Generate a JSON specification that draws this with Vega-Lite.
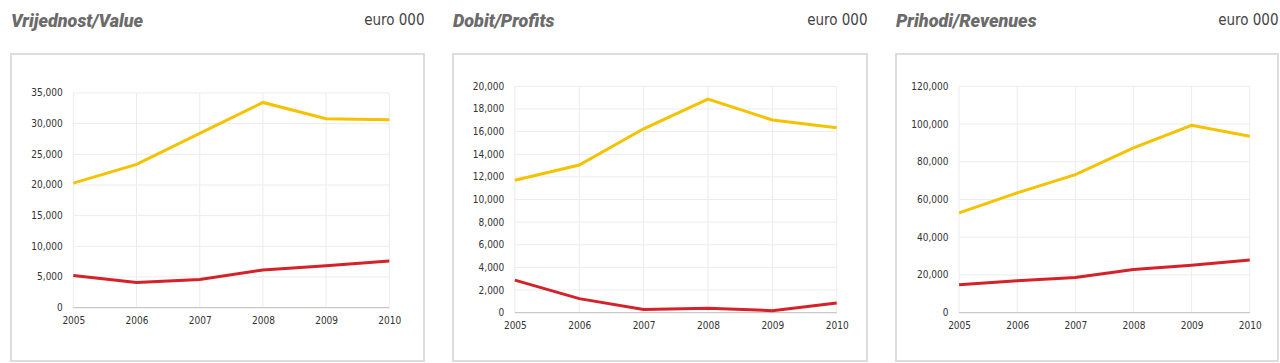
{
  "$schema": "https://vega.github.io/schema/vega-lite/v6.json",
  "padding": {"left": 10, "top": 11, "right": 0, "bottom": 0},
  "background": "white",
  "spacing": 27,
  "datasets": {
    "value": [
      {"year": 2005, "series": "A", "amount": 20300},
      {"year": 2006, "series": "A", "amount": 23350},
      {"year": 2007, "series": "A", "amount": 28400},
      {"year": 2008, "series": "A", "amount": 33450},
      {"year": 2009, "series": "A", "amount": 30800},
      {"year": 2010, "series": "A", "amount": 30650},
      {"year": 2005, "series": "B", "amount": 5250},
      {"year": 2006, "series": "B", "amount": 4100},
      {"year": 2007, "series": "B", "amount": 4600},
      {"year": 2008, "series": "B", "amount": 6150},
      {"year": 2009, "series": "B", "amount": 6850},
      {"year": 2010, "series": "B", "amount": 7600}
    ],
    "profits": [
      {"year": 2005, "series": "A", "amount": 11700},
      {"year": 2006, "series": "A", "amount": 13050},
      {"year": 2007, "series": "A", "amount": 16250},
      {"year": 2008, "series": "A", "amount": 18880},
      {"year": 2009, "series": "A", "amount": 17030},
      {"year": 2010, "series": "A", "amount": 16350},
      {"year": 2005, "series": "B", "amount": 2880},
      {"year": 2006, "series": "B", "amount": 1240},
      {"year": 2007, "series": "B", "amount": 290},
      {"year": 2008, "series": "B", "amount": 380},
      {"year": 2009, "series": "B", "amount": 180},
      {"year": 2010, "series": "B", "amount": 850}
    ],
    "revenues": [
      {"year": 2005, "series": "A", "amount": 52900},
      {"year": 2006, "series": "A", "amount": 63500},
      {"year": 2007, "series": "A", "amount": 73200},
      {"year": 2008, "series": "A", "amount": 87400},
      {"year": 2009, "series": "A", "amount": 99300},
      {"year": 2010, "series": "A", "amount": 93500},
      {"year": 2005, "series": "B", "amount": 14800},
      {"year": 2006, "series": "B", "amount": 16900},
      {"year": 2007, "series": "B", "amount": 18700},
      {"year": 2008, "series": "B", "amount": 22900},
      {"year": 2009, "series": "B", "amount": 25100},
      {"year": 2010, "series": "B", "amount": 27900}
    ],
    "gridValue": [{"v": 5000}, {"v": 10000}, {"v": 15000}, {"v": 20000}, {"v": 25000}, {"v": 30000}, {"v": 35000}],
    "gridProfits": [{"v": 2000}, {"v": 4000}, {"v": 6000}, {"v": 8000}, {"v": 10000}, {"v": 12000}, {"v": 14000}, {"v": 16000}, {"v": 18000}, {"v": 20000}],
    "gridRevenues": [{"v": 20000}, {"v": 40000}, {"v": 60000}, {"v": 80000}, {"v": 100000}, {"v": 120000}]
  },
  "hconcat": [
    {
      "width": 413,
      "height": 307,
      "view": {"stroke": "#dddddd", "strokeWidth": 2},
      "resolve": {"axis": {"x": "independent", "y": "independent"}},
      "title": {"text": "Vrijednost/Value", "anchor": "start", "frame": "group", "dy": 37, "baseline": "alphabetic", "font": "Roboto", "fontSize": 18, "fontWeight": 900, "fontStyle": "italic", "color": "#6b6b6b"},
      "layer": [
        {
          "data": {"name": "value"},
          "transform": [{"filter": "datum.series === 'A'"}],
          "mark": {"type": "rule", "color": "#ececec", "strokeWidth": 1},
          "encoding": {
            "x": {"field": "year", "type": "quantitative", "scale": {"domain": [2004.014, 2010.549], "nice": false, "zero": false},
              "axis": {"orient": "bottom", "offset": -53.4, "values": [2005, 2006, 2007, 2008, 2009, 2010], "format": "d", "domain": false, "ticks": false, "grid": false, "labelPadding": 8, "labelFlush": false, "labelOverlap": false, "title": null}},
            "y": {"datum": 0, "type": "quantitative", "scale": {"domain": [-8693, 41349], "nice": false, "zero": false}, "axis": null},
            "y2": {"datum": 35000}
          }
        },
        {
          "data": {"name": "gridValue"},
          "mark": {"type": "rule", "color": "#ececec", "strokeWidth": 1},
          "encoding": {
            "y": {"field": "v", "type": "quantitative", "scale": {"domain": [-8693, 41349], "nice": false, "zero": false}, "axis": null},
            "x": {"datum": 2005, "type": "quantitative", "scale": {"domain": [2004.014, 2010.549], "nice": false, "zero": false}, "axis": null},
            "x2": {"datum": 2010}
          }
        },
        {
          "data": {"name": "value"},
          "transform": [{"filter": "datum.series === 'A' && datum.year === 2005"}],
          "mark": {"type": "rule", "color": "#c8c8c8", "strokeWidth": 1.2},
          "encoding": {
            "y": {"datum": 0, "type": "quantitative", "scale": {"domain": [-8693, 41349], "nice": false, "zero": false}, "axis": null},
            "x": {"datum": 2005, "type": "quantitative", "scale": {"domain": [2004.014, 2010.549], "nice": false, "zero": false}, "axis": null},
            "x2": {"datum": 2010}
          }
        },
        {
          "data": {"name": "value"},
          "mark": {"type": "line", "strokeWidth": 3},
          "encoding": {
            "x": {"field": "year", "type": "quantitative", "scale": {"domain": [2004.014, 2010.549], "nice": false, "zero": false},
              "axis": {"orient": "top", "labels": false, "ticks": false, "domain": false, "grid": false, "title": "euro 000", "titleAnchor": "end", "titleAlign": "right", "titleBaseline": "alphabetic", "titlePadding": 30, "titleFont": "DejaVu Sans Condensed, Liberation Sans, sans-serif", "titleFontSize": 15, "titleFontWeight": "normal", "titleColor": "#444444"}},
            "y": {"field": "amount", "type": "quantitative", "scale": {"domain": [-8693, 41349], "nice": false, "zero": false},
              "axis": {"orient": "left", "offset": -62.3, "values": [0, 5000, 10000, 15000, 20000, 25000, 30000, 35000], "format": ",d", "domain": false, "ticks": false, "grid": false, "labelPadding": 11, "labelOverlap": false, "labelFlush": false, "title": null}},
            "color": {"field": "series", "type": "nominal", "scale": {"domain": ["A", "B"], "range": ["#F5C200", "#D4212A"]}, "legend": null}
          }
        }
      ]
    },
    {
      "width": 414,
      "height": 307,
      "view": {"stroke": "#dddddd", "strokeWidth": 2},
      "resolve": {"axis": {"x": "independent", "y": "independent"}},
      "title": {"text": "Dobit/Profits", "anchor": "start", "frame": "group", "dy": 37, "baseline": "alphabetic", "font": "Roboto", "fontSize": 18, "fontWeight": 900, "fontStyle": "italic", "color": "#6b6b6b"},
      "layer": [
        {
          "data": {"name": "profits"},
          "transform": [{"filter": "datum.series === 'A'"}],
          "mark": {"type": "rule", "color": "#ececec", "strokeWidth": 1},
          "encoding": {
            "x": {"field": "year", "type": "quantitative", "scale": {"domain": [2004.039, 2010.471], "nice": false, "zero": false},
              "axis": {"orient": "bottom", "offset": -48.4, "values": [2005, 2006, 2007, 2008, 2009, 2010], "format": "d", "domain": false, "ticks": false, "grid": false, "labelPadding": 8, "labelFlush": false, "labelOverlap": false, "title": null}},
            "y": {"datum": 0, "type": "quantitative", "scale": {"domain": [-4272, 22860], "nice": false, "zero": false}, "axis": null},
            "y2": {"datum": 20000}
          }
        },
        {
          "data": {"name": "gridProfits"},
          "mark": {"type": "rule", "color": "#ececec", "strokeWidth": 1},
          "encoding": {
            "y": {"field": "v", "type": "quantitative", "scale": {"domain": [-4272, 22860], "nice": false, "zero": false}, "axis": null},
            "x": {"datum": 2005, "type": "quantitative", "scale": {"domain": [2004.039, 2010.471], "nice": false, "zero": false}, "axis": null},
            "x2": {"datum": 2010}
          }
        },
        {
          "data": {"name": "profits"},
          "transform": [{"filter": "datum.series === 'A' && datum.year === 2005"}],
          "mark": {"type": "rule", "color": "#c8c8c8", "strokeWidth": 1.2},
          "encoding": {
            "y": {"datum": 0, "type": "quantitative", "scale": {"domain": [-4272, 22860], "nice": false, "zero": false}, "axis": null},
            "x": {"datum": 2005, "type": "quantitative", "scale": {"domain": [2004.039, 2010.471], "nice": false, "zero": false}, "axis": null},
            "x2": {"datum": 2010}
          }
        },
        {
          "data": {"name": "profits"},
          "mark": {"type": "line", "strokeWidth": 3},
          "encoding": {
            "x": {"field": "year", "type": "quantitative", "scale": {"domain": [2004.039, 2010.471], "nice": false, "zero": false},
              "axis": {"orient": "top", "labels": false, "ticks": false, "domain": false, "grid": false, "title": "euro 000", "titleAnchor": "end", "titleAlign": "right", "titleBaseline": "alphabetic", "titlePadding": 30, "titleFont": "DejaVu Sans Condensed, Liberation Sans, sans-serif", "titleFontSize": 15, "titleFontWeight": "normal", "titleColor": "#444444"}},
            "y": {"field": "amount", "type": "quantitative", "scale": {"domain": [-4272, 22860], "nice": false, "zero": false},
              "axis": {"orient": "left", "offset": -61.8, "values": [0, 2000, 4000, 6000, 8000, 10000, 12000, 14000, 16000, 18000, 20000], "format": ",d", "domain": false, "ticks": false, "grid": false, "labelPadding": 11, "labelOverlap": false, "labelFlush": false, "title": null}},
            "color": {"field": "series", "type": "nominal", "scale": {"domain": ["A", "B"], "range": ["#F5C200", "#D4212A"]}, "legend": null}
          }
        }
      ]
    },
    {
      "width": 382,
      "height": 307,
      "view": {"stroke": "#dddddd", "strokeWidth": 2},
      "resolve": {"axis": {"x": "independent", "y": "independent"}},
      "title": {"text": "Prihodi/Revenues", "anchor": "start", "frame": "group", "dy": 37, "baseline": "alphabetic", "font": "Roboto", "fontSize": 18, "fontWeight": 900, "fontStyle": "italic", "color": "#6b6b6b"},
      "layer": [
        {
          "data": {"name": "revenues"},
          "transform": [{"filter": "datum.series === 'A'"}],
          "mark": {"type": "rule", "color": "#ececec", "strokeWidth": 1},
          "encoding": {
            "x": {"field": "year", "type": "quantitative", "scale": {"domain": [2003.915, 2010.486], "nice": false, "zero": false},
              "axis": {"orient": "bottom", "offset": -48.4, "values": [2005, 2006, 2007, 2008, 2009, 2010], "format": "d", "domain": false, "ticks": false, "grid": false, "labelPadding": 8, "labelFlush": false, "labelOverlap": false, "title": null}},
            "y": {"datum": 0, "type": "quantitative", "scale": {"domain": [-25632, 137160], "nice": false, "zero": false}, "axis": null},
            "y2": {"datum": 120000}
          }
        },
        {
          "data": {"name": "gridRevenues"},
          "mark": {"type": "rule", "color": "#ececec", "strokeWidth": 1},
          "encoding": {
            "y": {"field": "v", "type": "quantitative", "scale": {"domain": [-25632, 137160], "nice": false, "zero": false}, "axis": null},
            "x": {"datum": 2005, "type": "quantitative", "scale": {"domain": [2003.915, 2010.486], "nice": false, "zero": false}, "axis": null},
            "x2": {"datum": 2010}
          }
        },
        {
          "data": {"name": "revenues"},
          "transform": [{"filter": "datum.series === 'A' && datum.year === 2005"}],
          "mark": {"type": "rule", "color": "#c8c8c8", "strokeWidth": 1.2},
          "encoding": {
            "y": {"datum": 0, "type": "quantitative", "scale": {"domain": [-25632, 137160], "nice": false, "zero": false}, "axis": null},
            "x": {"datum": 2005, "type": "quantitative", "scale": {"domain": [2003.915, 2010.486], "nice": false, "zero": false}, "axis": null},
            "x2": {"datum": 2010}
          }
        },
        {
          "data": {"name": "revenues"},
          "mark": {"type": "line", "strokeWidth": 3},
          "encoding": {
            "x": {"field": "year", "type": "quantitative", "scale": {"domain": [2003.915, 2010.486], "nice": false, "zero": false},
              "axis": {"orient": "top", "labels": false, "ticks": false, "domain": false, "grid": false, "title": "euro 000", "titleAnchor": "end", "titleAlign": "right", "titleBaseline": "alphabetic", "titlePadding": 30, "titleFont": "DejaVu Sans Condensed, Liberation Sans, sans-serif", "titleFontSize": 15, "titleFontWeight": "normal", "titleColor": "#444444"}},
            "y": {"field": "amount", "type": "quantitative", "scale": {"domain": [-25632, 137160], "nice": false, "zero": false},
              "axis": {"orient": "left", "offset": -63, "values": [0, 20000, 40000, 60000, 80000, 100000, 120000], "format": ",d", "domain": false, "ticks": false, "grid": false, "labelPadding": 11, "labelOverlap": false, "labelFlush": false, "title": null}},
            "color": {"field": "series", "type": "nominal", "scale": {"domain": ["A", "B"], "range": ["#F5C200", "#D4212A"]}, "legend": null}
          }
        }
      ]
    }
  ],
  "config": {
    "font": "DejaVu Sans Condensed, Liberation Sans, sans-serif",
    "axis": {"labelFont": "DejaVu Sans Condensed, Liberation Sans, sans-serif", "labelFontSize": 10, "labelColor": "#333333"}
  }
}
